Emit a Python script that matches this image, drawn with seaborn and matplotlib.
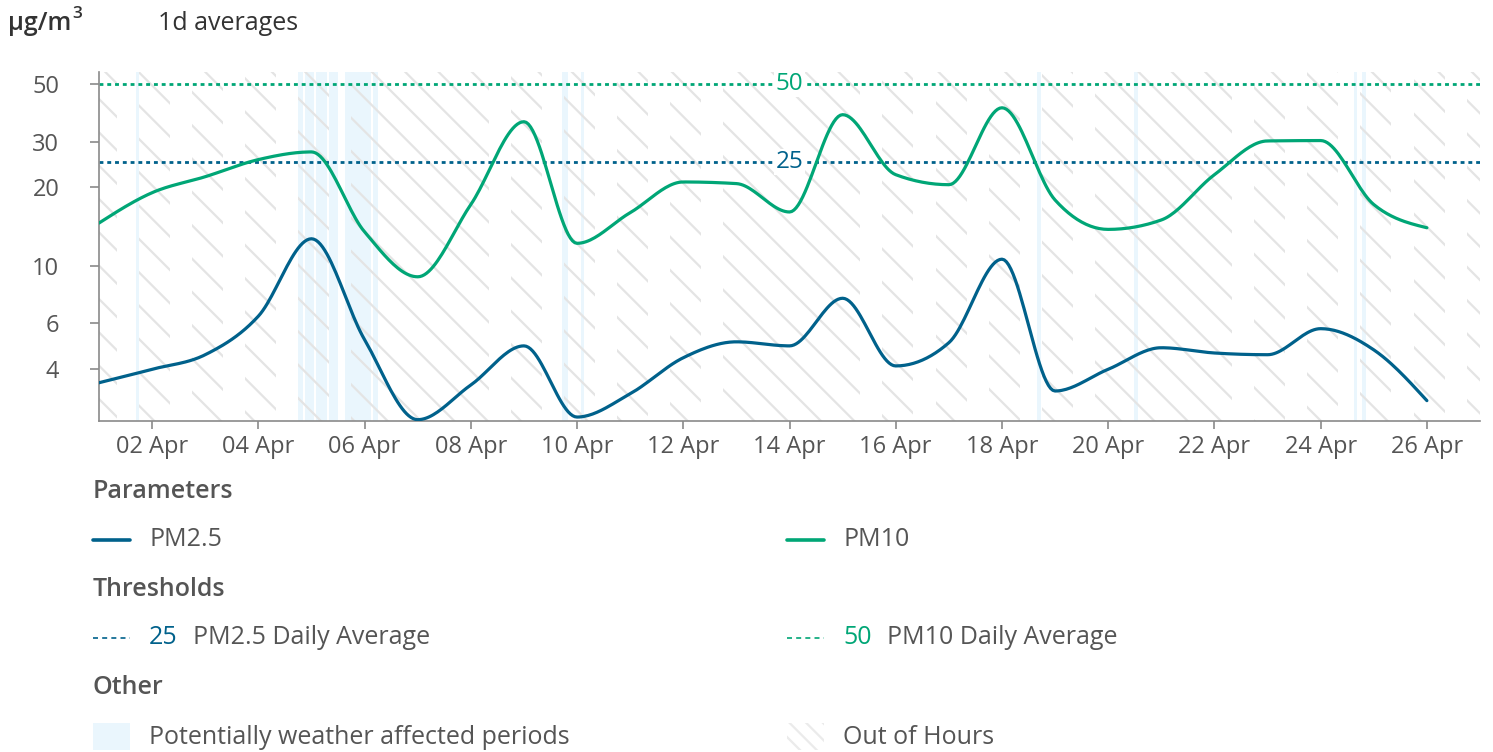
import numpy as np
import pandas as pd
import matplotlib
matplotlib.use("Agg")
import matplotlib.pyplot as plt
import matplotlib.dates as mdates
from matplotlib.lines import Line2D
from matplotlib.patches import Rectangle
import seaborn as sns

# daily averages, 1..26 Apr 2024
days = pd.date_range("2024-04-01", "2024-04-26", freq="D")
pm25 = [3.55, 4.0, 4.55, 6.4, 12.7, 5.2, 2.56, 3.48, 4.92, 2.62, 3.22, 4.43, 5.1,
        4.92, 7.5, 4.12, 5.06, 10.6, 3.3, 4.0, 4.84, 4.62, 4.55, 5.73, 4.75, 3.03]
pm10 = [14.6, 19.1, 22.0, 25.6, 27.4, 13.5, 9.07, 17.2, 35.8, 12.2, 16.0, 21.0, 20.7,
        16.1, 38.1, 22.4, 20.5, 40.5, 17.9, 13.8, 15.0, 22.4, 30.2, 30.3, 17.2, 14.0]

thr_pm25 = 25
thr_pm10 = 50

# potentially weather affected periods
weather_start = ["2024-04-01 16:45", "2024-04-04 18:00", "2024-04-04 21:00", "2024-04-05 02:00",
                 "2024-04-05 08:00", "2024-04-05 15:00", "2024-04-06 04:00", "2024-04-09 17:00",
                 "2024-04-10 02:00", "2024-04-18 16:00", "2024-04-20 11:30", "2024-04-24 15:00",
                 "2024-04-24 18:30"]
weather_end = ["2024-04-01 18:00", "2024-04-04 20:00", "2024-04-05 01:00", "2024-04-05 07:00",
               "2024-04-05 12:00", "2024-04-06 03:00", "2024-04-06 06:00", "2024-04-09 20:00",
               "2024-04-10 03:00", "2024-04-18 17:30", "2024-04-20 13:30", "2024-04-24 16:30",
               "2024-04-24 20:30"]

# working hours (everything else is "out of hours")
work_start, work_end = 8, 18
weekend_days = ["2024-04-06", "2024-04-07", "2024-04-13", "2024-04-14",
                "2024-04-20", "2024-04-21", "2024-04-27"]

c25 = "#00618B"
c10 = "#00A676"
c_weather = "#EAF6FD"
c_hatch = "#E4E4E4"
c_text = "#555555"

W, H = 1493, 752
FS = 18


def monotone(xs, ys, n=24):
    # monotone cubic (steffen) like d3.curveMonotoneX
    xs = np.asarray(xs, float)
    ys = np.asarray(ys, float)
    h = np.diff(xs)
    s = np.diff(ys) / h
    t = np.zeros_like(ys)
    for i in range(1, len(ys) - 1):
        p = (s[i - 1] * h[i] + s[i] * h[i - 1]) / (h[i - 1] + h[i])
        t[i] = (np.sign(s[i - 1]) + np.sign(s[i])) * min(abs(s[i - 1]), abs(s[i]), 0.5 * abs(p))
    t[0] = (3 * s[0] - t[1]) / 2
    t[-1] = (3 * s[-1] - t[-2]) / 2
    out_x, out_y = [], []
    for i in range(len(h)):
        u = np.linspace(0, 1, n, endpoint=False)
        h00 = 2 * u**3 - 3 * u**2 + 1
        h10 = u**3 - 2 * u**2 + u
        h01 = -2 * u**3 + 3 * u**2
        h11 = u**3 - u**2
        out_x.append(xs[i] + u * h[i])
        out_y.append(h00 * ys[i] + h10 * h[i] * t[i] + h01 * ys[i + 1] + h11 * h[i] * t[i + 1])
    out_x.append([xs[-1]])
    out_y.append([ys[-1]])
    return np.concatenate(out_x), np.concatenate(out_y)


rows = []
day_idx = np.arange(len(days))
for name, vals in [("PM2.5", pm25), ("PM10", pm10)]:
    sx, sy = monotone(day_idx, np.log10(vals))
    rows.append(pd.DataFrame({"time": days[0] + pd.to_timedelta(sx, unit="D"),
                              "value": 10 ** sy, "param": name}))
curve = pd.concat(rows, ignore_index=True)

sns.set_theme(style="white")
plt.rcParams["font.family"] = ["Open Sans", "DejaVu Sans"]
plt.rcParams["hatch.linewidth"] = 1.6

fig = plt.figure(figsize=(W / 100, H / 100), dpi=100)
ax = fig.add_axes([99 / W, 1 - 421 / H, (1480 - 99) / W, (421 - 72) / H])

# out of hours hatching
for d in pd.date_range("2024-04-01", "2024-04-26", freq="D"):
    ds = d.strftime("%Y-%m-%d")
    if ds in weekend_days:
        spans = [(d, d + pd.Timedelta(days=1))]
    else:
        spans = [(d, d + pd.Timedelta(hours=work_start)),
                 (d + pd.Timedelta(hours=work_end), d + pd.Timedelta(days=1))]
    for a, b in spans:
        ax.axvspan(a, b, facecolor="none", edgecolor=c_hatch, hatch="\\", linewidth=0, zorder=0.6)

for a, b in zip(weather_start, weather_end):
    ax.axvspan(pd.Timestamp(a), pd.Timestamp(b), facecolor=c_weather, edgecolor="none", zorder=0.5)

mid = pd.Timestamp("2024-04-14")
for val, col in [(thr_pm10, c10), (thr_pm25, c25)]:
    ax.axhline(val, color=col, linewidth=2, linestyle=(0, (1.4, 1.4)), zorder=2)
    ax.text(mid, val, str(val), ha="center", va="center", color=col, fontsize=17.5, zorder=2.5,
            bbox=dict(facecolor="white", edgecolor="none", pad=0.8))

sns.lineplot(data=curve, x="time", y="value", hue="param", palette={"PM2.5": c25, "PM10": c10},
             estimator=None, sort=False, legend=False, linewidth=2.3, ax=ax, zorder=3)

ax.set_yscale("log")
ax.set_ylim(2.53, 55.6)
ax.set_yticks([4, 6, 10, 20, 30, 50])
ax.set_yticklabels(["4", "6", "10", "20", "30", "50"])
ax.yaxis.set_minor_locator(matplotlib.ticker.NullLocator())
ax.set_xlim(pd.Timestamp("2024-04-01"), pd.Timestamp("2024-04-27"))
ax.xaxis.set_major_locator(mdates.DayLocator(bymonthday=range(2, 31, 2)))
ax.xaxis.set_major_formatter(mdates.DateFormatter("%d %b"))
ax.set_xlabel("")
ax.set_ylabel("")
for side in ["top", "right"]:
    ax.spines[side].set_visible(False)
for side in ["left", "bottom"]:
    ax.spines[side].set_color("#8a8a8a")
    ax.spines[side].set_linewidth(1.2)
ax.tick_params(axis="y", length=6.5, width=1.2, color="#8a8a8a", pad=22, labelsize=17, labelcolor=c_text, left=True)
ax.tick_params(axis="x", length=6, width=1.2, color="#8a8a8a", pad=4, labelsize=17, labelcolor=c_text, bottom=True)
ax.set_facecolor("white")


def fx(px):
    return px / W


def fy(py):
    return 1 - py / H


fig.text(fx(8), fy(24), "µg/m", fontsize=FS, fontweight="semibold", color="#333333", va="center")
fig.text(fx(72), fy(14), "3", fontsize=12.5, fontweight="semibold", color="#333333", va="center")
fig.text(fx(158), fy(24), "1d averages", fontsize=FS, color="#333333", va="center")

# legend
for label, py in [("Parameters", 491), ("Thresholds", 589), ("Other", 688)]:
    fig.text(fx(93), fy(py), label, fontsize=FS, fontweight="semibold", color=c_text, va="center")

for x0, col, name in [(93, c25, "PM2.5"), (787, c10, "PM10")]:
    fig.add_artist(Line2D([fx(x0), fx(x0 + 37)], [fy(540), fy(540)], transform=fig.transFigure,
                          color=col, linewidth=2.6))
    fig.text(fx(x0 + 56), fy(540), name, fontsize=FS, color=c_text, va="center")

for x0, col, val, name in [(93, c25, thr_pm25, "PM2.5 Daily Average"),
                           (787, c10, thr_pm10, "PM10 Daily Average")]:
    fig.add_artist(Line2D([fx(x0), fx(x0 + 37)], [fy(638), fy(638)], transform=fig.transFigure,
                          color=col, linewidth=1.2, linestyle=(0, (3, 2.5))))
    fig.text(fx(x0 + 56), fy(638), str(val), fontsize=FS, color=col, va="center")
    fig.text(fx(x0 + 100), fy(638), name, fontsize=FS, color=c_text, va="center")

fig.add_artist(Rectangle((fx(93), fy(750)), 37 / W, 27 / H, transform=fig.transFigure,
                         facecolor=c_weather, edgecolor="none"))
fig.text(fx(149), fy(737), "Potentially weather affected periods", fontsize=FS, color=c_text, va="center")
fig.add_artist(Rectangle((fx(787), fy(750)), 37 / W, 27 / H, transform=fig.transFigure,
                         facecolor="none", edgecolor="#ebebeb", hatch="\\\\", linewidth=0))
fig.text(fx(843), fy(737), "Out of Hours", fontsize=FS, color=c_text, va="center")

fig.savefig("out.png", dpi=100, facecolor="white")
